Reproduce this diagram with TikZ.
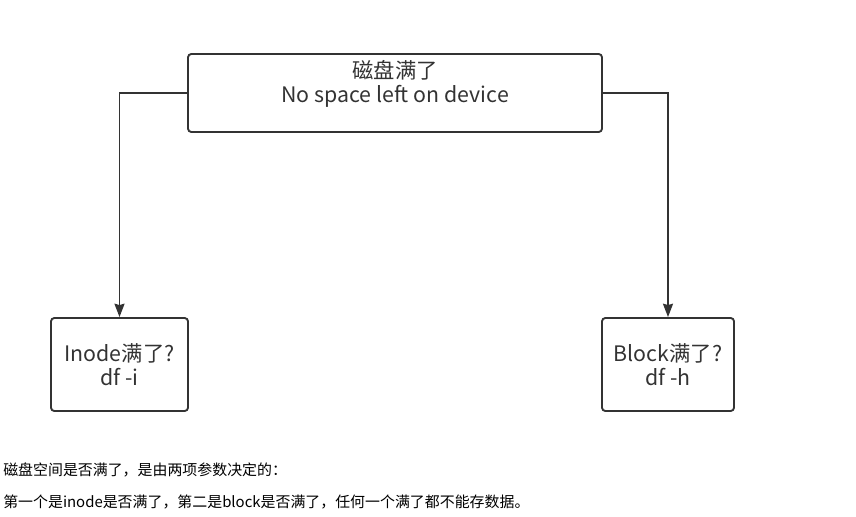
\documentclass[tikz,border=0pt]{standalone}
\usepackage{fontspec}
\setmainfont{Noto Sans CJK SC}
\usetikzlibrary{arrows.meta}
\definecolor{linegray}{HTML}{333333}

\begin{document}
\begin{tikzpicture}[x=0.75pt, y=-0.75pt,
  box/.style={draw=linegray, line width=1.4pt, rounded corners=2.5pt, align=center,
    text=linegray, font=\fontsize{16pt}{18pt}\selectfont, inner sep=0pt},
  conn/.style={draw=linegray, line width=1.4pt, -{Stealth[length=10pt,width=7.5pt,inset=1pt]}},
  note/.style={anchor=west, inner sep=0pt, font=\fontsize{11.2pt}{12pt}\selectfont}]
\useasboundingbox (0,0) rectangle (856,517);

\node [box, minimum width=310.5pt, minimum height=58.5pt] (disk) at (395, 93) {};
\node [align=center, text=linegray, font=\fontsize{16pt}{18pt}\selectfont, inner sep=0pt] (disktext) at (395, 83.5) {磁盘满了\\No space left on device};

\node [box, minimum width=102.75pt, minimum height=69.75pt] (inode) at (119.5, 364.5) {Inode满了?\\df -i};
\node [box, minimum width=99pt, minimum height=69.75pt] (block) at (668, 364.5) {Block满了?\\df -h};

\draw [conn] (disk.west) -| (inode.north);
\draw [conn] (disk.east) -| (block.north);

\node [note] (line1) at (3, 470) {磁盘空间是否满了，是由两项参数决定的：};
\node [note] (line2) at (3, 502) {第一个是inode是否满了，第二是block是否满了，任何一个满了都不能存数据。};

\end{tikzpicture}
\end{document}
